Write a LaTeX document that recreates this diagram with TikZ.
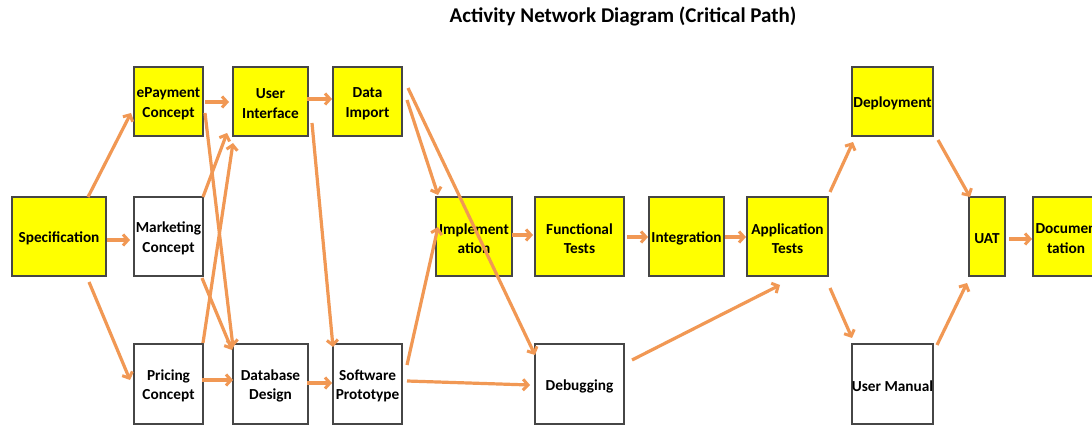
\documentclass[tikz,border=0pt]{standalone}
\usepackage{fontspec}
\setmainfont{Carlito}
\usetikzlibrary{arrows.meta}
\definecolor{boxline}{RGB}{70,70,70}
\definecolor{critfill}{RGB}{255,255,0}
\definecolor{linkcol}{RGB}{241,152,84}
\tikzset{
  caption/.style={align=center, inner sep=0pt, yshift=-2pt,
    font=\fontsize{15.3}{19.5}\selectfont\bfseries},
  task/.style={draw=boxline, line width=1.1pt, fill=white, inner sep=0pt,
    label={[caption]center:{#1}}},
  crit/.style={task={#1}, fill=critfill},
  link/.style={draw=linkcol, line width=3.2pt,
    -{Straight Barb[length=5pt,width=11pt,line width=3pt]}},
}
\begin{document}
\begin{tikzpicture}[x=1pt,y=-1pt]
\useasboundingbox (0,0) rectangle (1092,425);
\fill[white] (0,0) rectangle (1092,425);
\clip (0,0) rectangle (1092,425);

% title
\node[anchor=base, font=\fontsize{21}{25}\selectfont\bfseries] (title) at (623,23)
  {Activity Network Diagram (Critical Path)};

% activities
\node[crit={Specification},       minimum width=94pt, minimum height=79pt] (spec)  at (59,236.5)   {};
\node[crit={ePayment\\Concept},   minimum width=69pt, minimum height=69pt] (epay)  at (168.5,101.5) {};
\node[crit={User\\Interface},     minimum width=75pt, minimum height=69pt] (ui)    at (270.5,101.5) {};
\node[crit={Data\\Import},        minimum width=69pt, minimum height=69pt] (dimp)  at (367.5,101.5) {};
\node[task={Marketing\\Concept},  minimum width=69pt, minimum height=79pt] (mkt)   at (168.5,236.5) {};
\node[task={Pricing\\Concept},    minimum width=69pt, minimum height=80pt] (prc)   at (168.5,384)   {};
\node[task={Database\\Design},    minimum width=75pt, minimum height=80pt] (db)    at (270.5,384)   {};
\node[task={Software\\Prototype}, minimum width=69pt, minimum height=80pt] (sp)    at (367.5,384)   {};
\node[crit={Implement\\ation},    minimum width=76pt, minimum height=79pt] (impl)  at (474,236.5)   {};
\node[crit={Functional\\Tests},   minimum width=89pt, minimum height=79pt] (ft)    at (579.5,236.5) {};
\node[crit={Integration},         minimum width=75pt, minimum height=79pt] (integ) at (686.5,236.5) {};
\node[crit={Application\\Tests},  minimum width=81pt, minimum height=79pt] (apt)   at (787.5,236.5) {};
\node[task={Debugging},           minimum width=89pt, minimum height=80pt] (dbg)   at (579.5,384)   {};
\node[crit={Deployment},          minimum width=81pt, minimum height=69pt] (dep)   at (892.5,101.5) {};
\node[crit={UAT},                 minimum width=36pt, minimum height=79pt] (uat)   at (987,236.5)   {};
\node[crit={Documen\\tation},     minimum width=66pt, minimum height=79pt] (doc)   at (1066,236.5)  {};
\node[task={User Manual},         minimum width=81pt, minimum height=80pt] (um)    at (892.5,384)   {};

% dependencies
\draw[link] ([shift={(29,-39.5)}]spec.center) -- ([shift={(-37.5,11.5)}]epay.center);
\draw[link] ([shift={(48,3.5)}]spec.center) -- ([shift={(-38.5,3.5)}]mkt.center);
\draw[link] ([shift={(30,45.5)}]spec.center) -- ([shift={(-38.5,-4)}]prc.center);
\draw[link] ([shift={(36.5,0.5)}]epay.center) -- ([shift={(-41.5,0.5)}]ui.center);
\draw[link] ([shift={(36.5,-2.5)}]ui.center) -- ([shift={(-35.5,-2.5)}]dimp.center);
\draw[link] ([shift={(34.5,-39.5)}]mkt.center) -- ([shift={(-43.5,31.5)}]ui.center);
\draw[link] ([shift={(34.5,-41)}]prc.center) -- ([shift={(-37.5,41.5)}]ui.center);
\draw[link] ([shift={(36.5,11.5)}]epay.center) -- ([shift={(-37.5,-37)}]db.center);
\draw[link] ([shift={(33.5,41.5)}]mkt.center) -- ([shift={(-38.5,-34)}]db.center);
\draw[link] ([shift={(41.5,21.5)}]ui.center) -- ([shift={(-34.5,-37)}]sp.center);
\draw[link] ([shift={(33.5,-4)}]prc.center) -- ([shift={(-37.5,-4)}]db.center);
\draw[link] ([shift={(36.5,-1)}]db.center) -- ([shift={(-35.5,-1)}]sp.center);
\draw[link] ([shift={(39.5,-1.5)}]dimp.center) -- ([shift={(-36,-41.5)}]impl.center);
\draw[link] ([shift={(40.5,-13.5)}]dimp.center) -- ([shift={(-44.5,-29)}]dbg.center);
\draw[link] ([shift={(39.5,-19)}]sp.center) -- ([shift={(-36,-9.5)}]impl.center);
\draw[link] ([shift={(39.5,-3)}]sp.center) -- ([shift={(-49.5,1)}]dbg.center);
\draw[link] ([shift={(38,-1.5)}]impl.center) -- ([shift={(-46.5,-1.5)}]ft.center);
\draw[link] ([shift={(47.5,0.5)}]ft.center) -- ([shift={(-38.5,0.5)}]integ.center);
\draw[link] ([shift={(38.5,0.5)}]integ.center) -- ([shift={(-41.5,0.5)}]apt.center);
\draw[link] ([shift={(52.5,-24)}]dbg.center) -- ([shift={(-7.5,48.5)}]apt.center);
\draw[link] ([shift={(42.5,-44.5)}]apt.center) -- ([shift={(-39.5,40.5)}]dep.center);
\draw[link] ([shift={(42.5,51.5)}]apt.center) -- ([shift={(-40.5,-46)}]um.center);
\draw[link] ([shift={(45.5,38.5)}]dep.center) -- ([shift={(-17,-39.5)}]uat.center);
\draw[link] ([shift={(44.5,-39)}]um.center) -- ([shift={(-20,46.5)}]uat.center);
\draw[link] ([shift={(22,2.5)}]uat.center) -- ([shift={(-34,2.5)}]doc.center);
\end{tikzpicture}
\end{document}
